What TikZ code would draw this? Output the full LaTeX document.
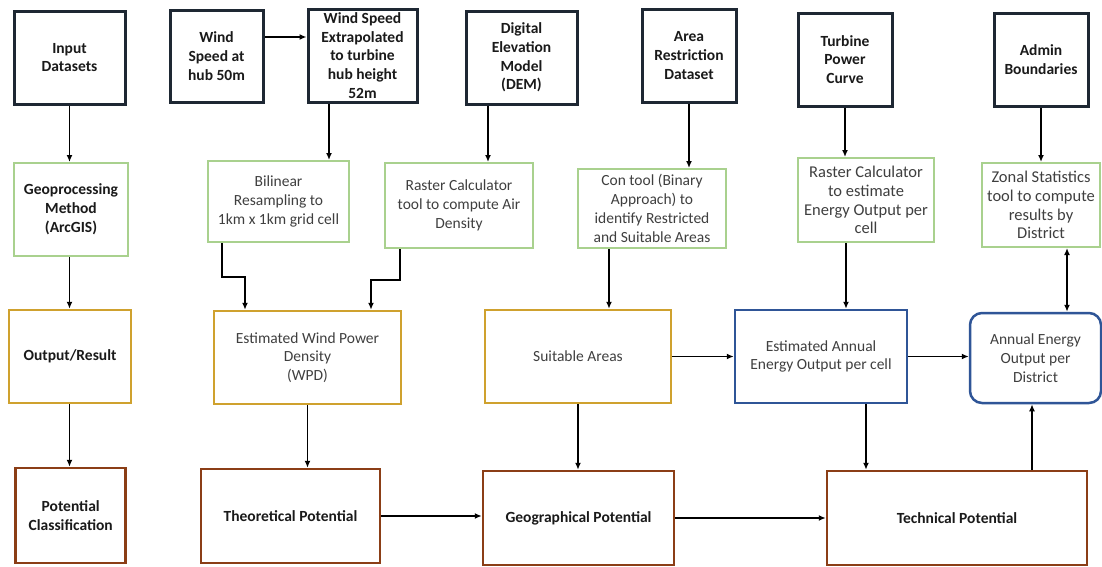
\documentclass[tikz,border=0pt]{standalone}
\usepackage{fontspec}
\setmainfont{Carlito}
\usetikzlibrary{arrows.meta}

\definecolor{inkdark}{HTML}{1E2833}
\definecolor{leaf}{HTML}{A9D18E}
\definecolor{gold}{HTML}{CFA12E}
\definecolor{royal}{HTML}{2F5597}
\definecolor{rust}{HTML}{8B3E16}
\definecolor{txt}{HTML}{1A1A1A}
\definecolor{txtsoft}{HTML}{3F3F3F}

\tikzset{
  basebox/.style={rectangle, inner sep=0pt, align=center, fill=white,
    font=\fontsize{15.5}{18.8}\selectfont},
  inputbox/.style={basebox, draw=inkdark, line width=3pt, text=txt, font=\fontsize{15.5}{18.8}\selectfont\bfseries},
  toolbox/.style={basebox, draw=leaf, line width=2pt, text=txtsoft},
  resultbox/.style={basebox, draw=gold, line width=2.5pt, text=txtsoft},
  energybox/.style={basebox, draw=royal, line width=2.5pt, text=txtsoft},
  potbox/.style={basebox, draw=rust, line width=2.5pt, text=txt, font=\fontsize{15.5}{18.8}\selectfont\bfseries},
  boldtxt/.style={text=txt, font=\fontsize{15.5}{18.8}\selectfont\bfseries},
  bigtxt/.style={font=\fontsize{16.5}{18.8}\selectfont},
  arr/.style={-{Latex[length=7pt,width=6pt]}, line width=1.4pt, draw=black},
  dblarr/.style={{Latex[length=7pt,width=6pt]}-{Latex[length=7pt,width=6pt]}, line width=1.4pt, draw=black}
}

\begin{document}
\begin{tikzpicture}[x=1pt, y=-1pt]
\useasboundingbox[fill=white] (0,0) rectangle (1102,566);

% input datasets (top row)
\node[inputbox, minimum width=111pt, minimum height=93pt] (inp)   at (69.5,57.5) {Input\\Datasets};
\node[inputbox, minimum width=93pt,  minimum height=92pt] (ws50)  at (216.5,56)  {Wind\\Speed at\\hub 50m};
\node[inputbox, minimum width=109pt, minimum height=93pt] (wsext) at (362.5,55.5) {Wind Speed\\Extrapolated\\to turbine\\hub height\\52m};
\node[inputbox, minimum width=111pt, minimum height=93pt] (dem)   at (521.5,57.5) {Digital\\Elevation\\Model\\(DEM)};
\node[inputbox, minimum width=94pt,  minimum height=93pt] (area)  at (689,55.5)  {Area\\Restriction\\Dataset};
\node[inputbox, minimum width=94pt,  minimum height=93pt] (tpc)   at (845,59.5)  {Turbine\\Power\\Curve};
\node[inputbox, minimum width=94pt,  minimum height=93pt] (admin) at (1041,59.5) {Admin\\Boundaries};

% geoprocessing tools
\node[toolbox, boldtxt, minimum width=114pt, minimum height=93pt] (geo) at (71,209.5) {Geoprocessing\\Method\\(ArcGIS)};
\node[toolbox, minimum width=141pt, minimum height=81pt] (bil) at (278.5,201.5) {Bilinear\\Resampling to\\1km x 1km grid cell};
\node[toolbox, minimum width=148pt, minimum height=85pt] (rca) at (459,205.5) {Raster Calculator\\tool to compute Air\\Density};
\node[toolbox, minimum width=148pt, minimum height=79pt] (con) at (652,208.5) {Con tool (Binary\\Approach) to\\identify Restricted\\and Suitable Areas};
\node[toolbox, bigtxt, minimum width=136pt, minimum height=84pt] (rce) at (866,200) {Raster Calculator\\to estimate\\Energy Output per\\cell};
\node[toolbox, bigtxt, minimum width=118pt, minimum height=84pt] (zon) at (1041,205) {Zonal Statistics\\tool to compute\\results by\\District};

% intermediate outputs
\node[resultbox, boldtxt, minimum width=122pt, minimum height=93pt] (out) at (70,356.5) {Output/Result};
\node[resultbox, minimum width=187pt, minimum height=93pt] (wpd)  at (307.5,357.5) {Estimated Wind Power\\Density\\(WPD)};
\node[resultbox, minimum width=186pt, minimum height=93pt] (suit) at (578,356.5) {Suitable Areas};
\node[energybox, minimum width=172pt, minimum height=93pt] (eae)  at (821,356.5) {Estimated Annual\\Energy Output per cell};
\node[energybox, rounded corners=12pt, minimum width=131pt, minimum height=90pt] (aed) at (1035.5,358) {Annual Energy\\Output per\\District};

% potentials
\node[potbox, minimum width=110pt, minimum height=95pt] (pc)   at (70.7,515.5) {Potential\\Classification};
\node[potbox, minimum width=179pt, minimum height=94pt] (theo) at (290.5,516) {Theoretical Potential};
\node[potbox, minimum width=191pt, minimum height=94pt] (geog) at (578.5,518) {Geographical Potential};
\node[potbox, minimum width=260pt, minimum height=94pt] (tech) at (957,518)   {Technical Potential};

% legend column
\draw[arr] (inp.south) -- (inp.south |- geo.north);
\draw[arr] (geo.south -| inp.south) -- (out.north -| inp.south);
\draw[arr] (out.south -| inp.south) -- (pc.north -| inp.south);

% wind power density chain
\draw[arr] ([yshift=19pt]ws50.east) -- ([yshift=19pt]ws50.east -| wsext.west);
\draw[arr] ([xshift=-33.5pt]wsext.south) -- ([xshift=-33.5pt]wsext.south |- bil.north);
\draw[arr] ([xshift=-33.5pt]dem.south) -- ([xshift=-33.5pt]dem.south |- rca.north);
\draw[arr] ([xshift=-56.5pt]bil.south) -- ++(0,34) -| ([xshift=-62.5pt]wpd.north);
\draw[arr] ([xshift=-59pt]rca.south) -- ++(0,31) -| ([xshift=63.5pt]wpd.north);
\draw[arr] (wpd.south) -- (wpd.south |- theo.north);

% suitability chain
\draw[arr] (area.south) -- (area.south |- con.north);
\draw[arr] ([xshift=-43pt]con.south) -- ([xshift=-43pt]con.south |- suit.north);
\draw[arr] (suit.south) -- (suit.south |- geog.north);
\draw[arr] (suit.east) -- (suit.east -| eae.west);

% energy output chain
\draw[arr] (tpc.south) -- (tpc.south |- rce.north);
\draw[arr] ([xshift=-20pt]rce.south) -- ([xshift=-20pt]rce.south |- eae.north);
\draw[arr] (eae.east) -- (eae.east -| aed.west);
\draw[arr] ([xshift=45pt]eae.south) -- ([xshift=45pt]eae.south |- tech.north);
\draw[arr] (admin.south) -- (admin.south |- zon.north);
\draw[dblarr] ([xshift=26pt]zon.south) -- ([xshift=26pt]zon.south |- aed.north);

% potentials chain
\draw[arr] (theo.east) -- (theo.east -| geog.west);
\draw[arr] (geog.east) -- (geog.east -| tech.west);
\draw[arr] ([xshift=75pt]tech.north) -- ([xshift=75pt]tech.north |- aed.south);
\end{tikzpicture}
\end{document}
